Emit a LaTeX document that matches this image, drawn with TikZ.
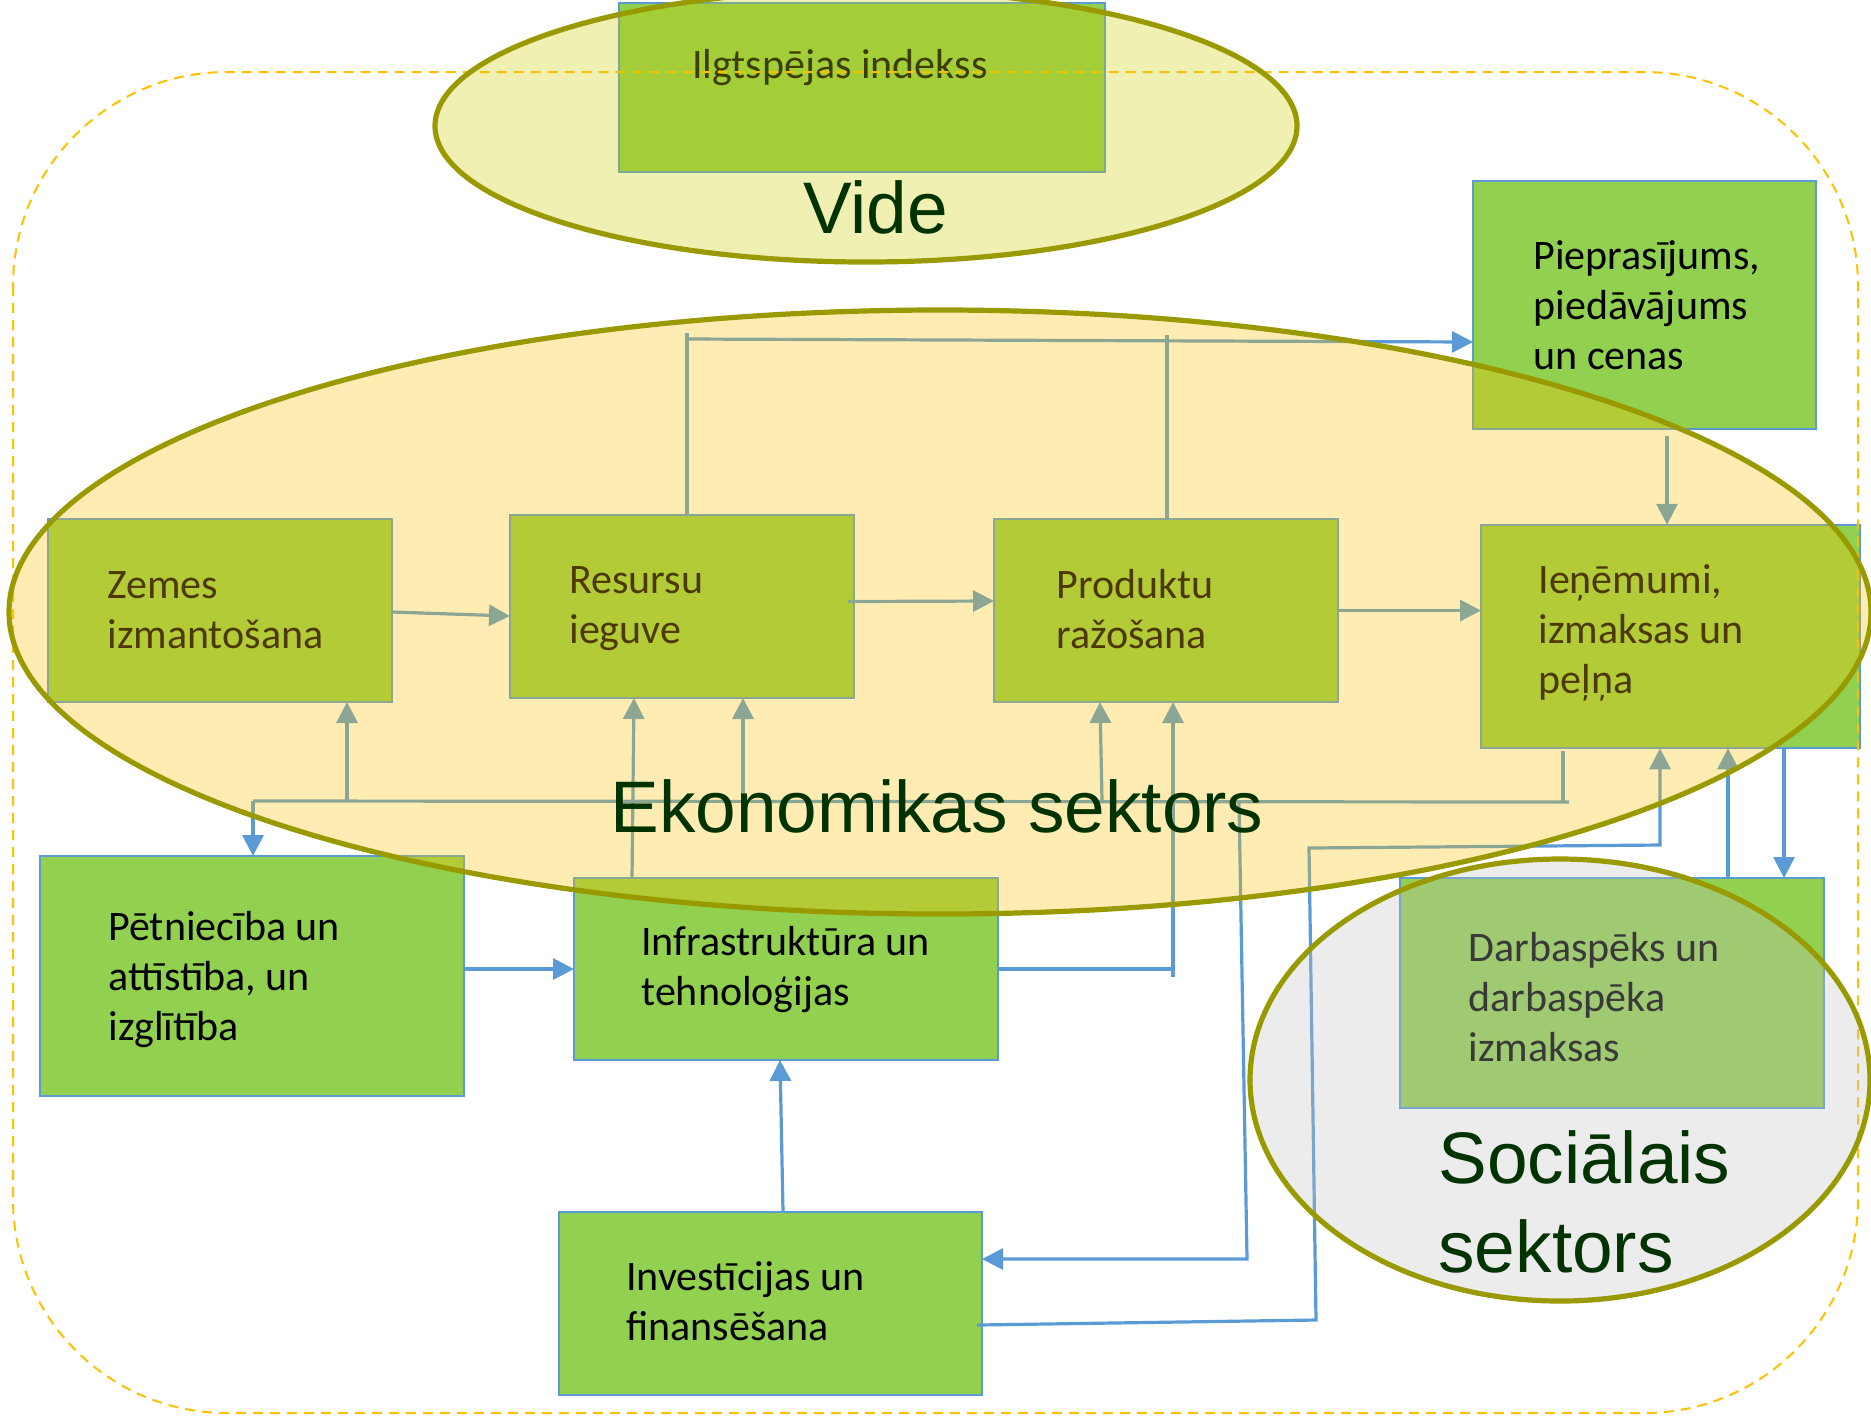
\documentclass[tikz,border=0pt]{standalone}
\usepackage{fontspec}
\setmainfont{Carlito}
\newfontfamily\labfont{Liberation Sans}
\usetikzlibrary{arrows.meta,calc,shapes.geometric}
\definecolor{boxgreen}{HTML}{92D050}
\definecolor{boxblue}{HTML}{5B9BD5}
\definecolor{ringolive}{HTML}{999900}
\definecolor{videfill}{HTML}{CCCC00}
\definecolor{ecofill}{HTML}{FFC000}
\definecolor{socfill}{HTML}{BFBFBF}
\definecolor{labgreen}{HTML}{003300}
\definecolor{dashgold}{HTML}{FFC000}
\newcommand{\mlt}[1]{\begin{tabular}[t]{@{}l@{}}#1\end{tabular}}
\begin{document}
\begin{tikzpicture}[x=0.5pt,y=-0.5pt,
  box/.style 2 args={draw=boxblue,line width=1pt,fill=boxgreen,inner sep=0pt,outer sep=0pt,minimum width=#1,minimum height=#2},
  txt/.style={anchor=base west,inner sep=0pt,font=\fontsize{21}{25.2}\selectfont,text=black},
  lab/.style={anchor=base west,inner sep=0pt,font=\labfont\fontsize{36.5}{44.5}\selectfont,text=labgreen},
  conn/.style={draw=boxblue,line width=1.6pt},
  arr/.style={conn,-{Triangle[length=10.5pt,width=10.5pt]}},
  ring/.style={ellipse,draw=ringolive,line width=2.6pt,fill opacity=0.3,inner sep=0pt}]
\useasboundingbox (0,0) rectangle (1871,1415);

% boxes
\node[box={243pt}{84.5pt}] (ilgts) at (862,87.5) {};
\node[box={171.5pt}{124pt}] (piepras) at (1644.5,305) {};
\node[box={172pt}{91.5pt}] (zemes) at (220,610.5) {};
\node[box={172pt}{91.5pt}] (resursu) at (682,606.5) {};
\node[box={172pt}{91.5pt}] (produktu) at (1166,610.5) {};
\node[box={189.5pt}{111.75pt}] (ienemumi) at (1670.5,636.5) {};
\node[box={212pt}{120pt}] (petn) at (252,976) {};
\node[box={212pt}{91pt}] (infra) at (786,969) {};
\node[box={211.5pt}{91.5pt}] (invest) at (770.5,1303.5) {};
\node[box={212pt}{115pt}] (darba) at (1612,993) {};

% box texts
\node[txt] (tilgts) at (692,78) {Ilgtspējas indekss};
\node[txt] (tpiepras) at (1533,269) {\mlt{Pieprasījums,\\piedāvājums\\un cenas}};
\node[txt] (tzemes) at (107,598) {\mlt{Zemes\\izmantošana}};
\node[txt] (tresursu) at (569,593) {\mlt{Resursu\\ieguve}};
\node[txt] (tprodukt) at (1056,598) {\mlt{Produktu\\ražošana}};
\node[txt] (tienem) at (1538,593) {\mlt{Ieņēmumi,\\izmaksas un\\peļņa}};
\node[txt] (tpetn) at (108,940) {\mlt{Pētniecība un\\attīstība, un\\izglītība}};
\node[txt] (tinfra) at (641,955) {\mlt{Infrastruktūra un\\tehnoloģijas}};
\node[txt] (tinvest) at (626,1290) {\mlt{Investīcijas un\\finansēšana}};
\node[txt] (tdarba) at (1468,961) {\mlt{Darbaspēks un\\darbaspēka\\izmaksas}};

% junction coordinates
\coordinate (t2) at (687,333);
\coordinate (t3) at (687,339);
\coordinate (bR) at (1569,802);
\coordinate (bL) at (253,801);
\coordinate (j1) at (347,801);
\coordinate (j2) at (743,801);
\coordinate (j3) at (1102,801);
\coordinate (k1) at (1172,969);
\coordinate (k2) at (1173,977);
\coordinate (m1) at (1239,803);
\coordinate (m2) at (1247,1259);
\coordinate (n1) at (1316,1320);
\coordinate (n2) at (1309,848);
\coordinate (n3) at (1660,845);
\coordinate (p1) at ([shift={(22.5,7)}]piepras.south);
\coordinate (z1) at ([shift={(0,1.5)}]zemes.east);

% connectors
\draw[arr] (z1) -- ([shift={(0,9.5)}]resursu.west);
\draw[arr] ([shift={(-6,-5)}]resursu.east) -- (produktu.west |- 0,601);
\draw[arr] (produktu.east) -- (ienemumi.west |- produktu.east);
\draw[arr] (p1) -- (p1 |- ienemumi.north);
\draw[conn] ([shift={(5,0)}]resursu.north) -- (t2);
\draw[arr] (t3) -- (piepras.west |- 0,342);
\draw[conn] ([shift={(1,0)}]produktu.north) -- ++(0,-184);
\draw[conn] ([shift={(-107.5,3)}]ienemumi.south) -- ([shift={(-107.5,55)}]ienemumi.south);
\draw[conn] (bR) -- (bL);
\draw[arr] (j1) -- (j1 |- zemes.south);
\draw[arr] (j2) -- (j2 |- resursu.south);
\draw[arr] (j3) -- ([shift={(-2,0)}]j3 |- produktu.south);
\draw[arr] (bL) -- (bL |- petn.north);
\draw[arr] ([shift={(-154,0)}]infra.north) -- ([shift={(-48,0)}]resursu.south);
\draw[conn] (infra.east) -- (k1);
\draw[arr] (k2) -- (k2 |- produktu.south);
\draw[arr] (petn.east |- infra.west) -- (infra.west);
\draw[arr] ([shift={(12.5,0)}]invest.north) -- ([shift={(-6,0)}]infra.south);
\draw[arr] (m1) -- (m2) -- (m2 -| invest.east);
\draw[arr] ([shift={(-5,21.5)}]invest.east) -- (n1) -- (n2) -- (n3) -- (n3 |- ienemumi.south);
\draw[arr] ([shift={(116,0)}]darba.north) -- ([shift={(57.5,0)}]ienemumi.south);
\draw[arr] ([shift={(113.5,0)}]ienemumi.south) -- ([shift={(172,0)}]darba.north);

% dashed frame
\draw[dashgold,line width=1pt,dash pattern=on 5pt off 3.5pt,rounded corners=107pt] (13,72) rectangle (1858,1413);

% sector ellipses
\node[ring,fill=videfill,minimum width=431pt,minimum height=136pt] (vide) at (866,126) {};
\node[ring,fill=ecofill,minimum width=931pt,minimum height=302pt] (eko) at (940,612) {};
\node[ring,fill=socfill,minimum width=310pt,minimum height=221pt] (soc) at (1560,1080) {};

% sector labels
\node[lab] (lvide) at (803,233) {Vide};
\node[lab] (leko) at (610,832) {Ekonomikas sektors};
\node[lab] (lsoc) at (1438,1183) {\begin{tabular}[t]{@{}l@{}}Sociālais\\sektors\end{tabular}};
\end{tikzpicture}
\end{document}
